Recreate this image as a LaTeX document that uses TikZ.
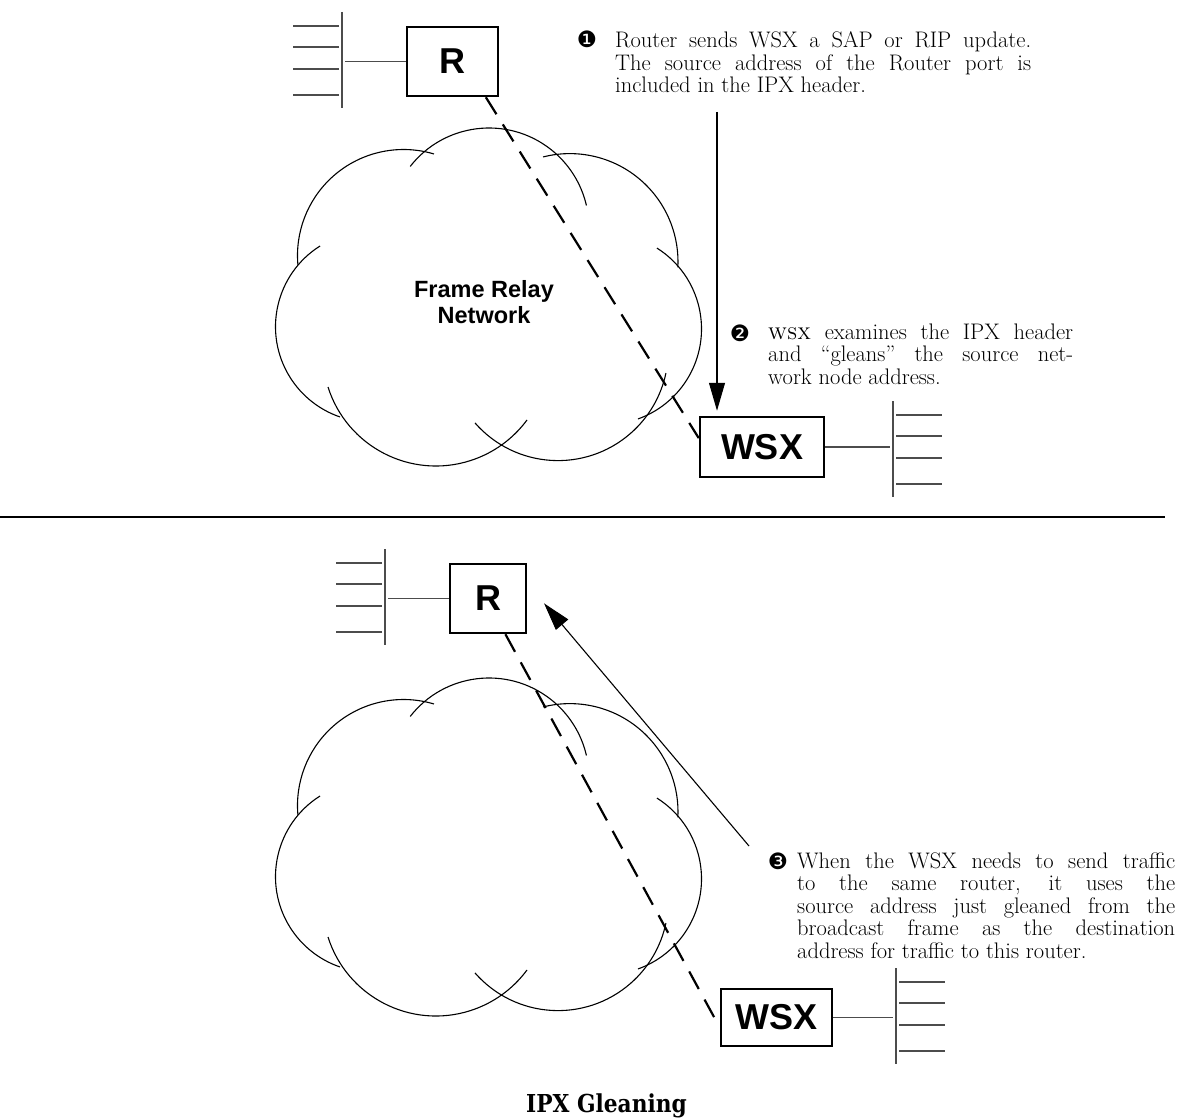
\documentclass[tikz,border=0pt]{standalone}
\usepackage{fontspec}
\newfontfamily\devicefont{Liberation Sans}
\newfontfamily\markfont{DejaVu Sans}
\newfontfamily\captionfont{DejaVu Serif}[FakeStretch=0.88]
\usetikzlibrary{arrows.meta, positioning}

\begin{document}
\begin{tikzpicture}[
    x=1pt, y=-1pt,
    device/.style={
        rectangle,
        draw=black,
        line width=2.5pt,
        inner sep=0pt,
        font=\devicefont\bfseries\fontsize{36}{36}\selectfont
    },
    lan_wire/.style={
        draw=black!70,
        line width=1.2pt
    },
    virtual_circuit/.style={
        line width=2.2pt,
        dash pattern=on 20pt off 12pt
    },
    pointer/.style={
        -{Triangle[length=28pt, width=16pt]},
        line width=1.1pt
    },
    cloud_line/.style={
        line width=1.1pt
    },
    note_text/.style={
        anchor=north west,
        inner sep=0pt,
        align=justify,
        font=\fontsize{22.5}{22.5}\selectfont
    },
    note_mark/.style={
        inner sep=0pt,
        font=\markfont\fontsize{22.5}{22.5}\selectfont
    },
    cloud_label/.style={
        inner sep=0pt,
        align=center,
        font=\devicefont\bfseries\fontsize{23.5}{26}\selectfont
    },
    caption_text/.style={
        anchor=base,
        inner sep=0pt,
        font=\captionfont\bfseries\fontsize{24.7}{24.7}\selectfont
    },
    lan/.pic={
        \draw[lan_wire] (0,0) -- (0,96);
        \draw[lan_wire] (3,14) -- (49,14);
        \draw[lan_wire] (3,35) -- (49,35);
        \draw[lan_wire] (3,57) -- (49,57);
        \draw[lan_wire] (3,83) -- (49,83);
    },
    cloud/.pic={
        \draw[cloud_line] (489,228) ++(-142:100) arc[start angle=-142, end angle=-13, radius=100];
        \draw[cloud_line] (403.5,255.5) ++(-73.3:106) arc[start angle=-73.3, end angle=-185, radius=106];
        \draw[cloud_line] (370.9,326.7) ++(237.8:95.4) arc[start angle=237.8, end angle=108.9, radius=95.4];
        \draw[cloud_line] (435.9,352.8) ++(162.4:113.2) arc[start angle=162.4, end angle=36.4, radius=113.2];
        \draw[cloud_line] (558,350.3) ++(138.8:110.3) arc[start angle=138.8, end angle=11.9, radius=110.3];
        \draw[cloud_line] (569.8,261.8) ++(-104.3:108.2) arc[start angle=-104.3, end angle=3, radius=108.2];
        \draw[cloud_line] (605.9,328.9) ++(-57.7:95.6) arc[start angle=-57.7, end angle=70.4, radius=95.6];
    }
]

    \useasboundingbox (0,0) rectangle (1188,1118);

    % TOP PANEL: ROUTER ANNOUNCES ITSELF
    \pic at (0,0) {cloud};
    \node[cloud_label] (frnet) at (484,302.5) {Frame Relay\\Network};

    \node[device, minimum width=91pt, minimum height=69pt] (router1) at (452.5,61.5) {R};
    \node[device, minimum width=124pt, minimum height=60pt] (wsx1) at (762,447) {WSX};

    % LAN SEGMENTS
    \pic[xscale=-1] at (342,12) {lan};
    \pic at (893,401) {lan};
    \coordinate (lan1) at (345,61.5);
    \coordinate (lan2) at (890,447);
    \draw[lan_wire] (router1.west) -- (lan1);
    \draw[lan_wire] (wsx1.east) -- (lan2);

    % PVC ACROSS THE CLOUD
    \draw[virtual_circuit] (router1.-47) -- (wsx1.172);

    % STEP NOTES
    \node[note_mark] (mark1) at (587,39) {❶};
    \node[note_text, text width=416pt] (note1) at (615,31.4) {Router sends WSX a SAP or RIP update.\linebreak The source address of the Router port is\linebreak included in the IPX header.};
    \coordinate (note1tail) at (717,112);
    \draw[pointer, shorten >=5pt] (note1tail) -- (note1tail |- wsx1.north);

    \node[note_mark] (mark2) at (740,333) {❷};
    \node[note_text, text width=305pt] (note2) at (768,323.4) {\textsc{wsx} examines the IPX header\linebreak and ``gleans'' the source net-\linebreak work node address.};

    % PANEL SEPARATOR
    \draw[line width=2pt] (0,517) -- (1165,517);

    % BOTTOM PANEL: WSX ANSWERS THE ROUTER
    \pic at (0,550) {cloud};

    \node[device, minimum width=76pt, minimum height=69pt] (router2) at (488,598.5) {R};
    \node[device, minimum width=111pt, minimum height=57pt] (wsx2) at (776.5,1017.5) {WSX};

    \pic[xscale=-1] at (385,549) {lan};
    \pic at (896,968) {lan};
    \coordinate (lan3) at (388,598.5);
    \coordinate (lan4) at (893,1017.5);
    \draw[lan_wire] (router2.west) -- (lan3);
    \draw[lan_wire] (wsx2.east) -- (lan4);

    \draw[virtual_circuit] (router2.-64) -- (wsx2.190);

    \node[note_mark] (mark3) at (778,861) {❸};
    \node[note_text, text width=378pt] (note3) at (797,852.4) {When the WSX needs to send traffic\linebreak to the same router, it uses the\linebreak source address just gleaned from the\linebreak broadcast frame as the destination\linebreak address for traffic to this router.};
    \coordinate (note3tail) at (749,846);
    \draw[pointer, shorten >=26pt] (note3tail) -- (router2.21);

    % CAPTION
    \node[caption_text] (caption) at (606.5,1112) {IPX Gleaning};

\end{tikzpicture}
\end{document}
